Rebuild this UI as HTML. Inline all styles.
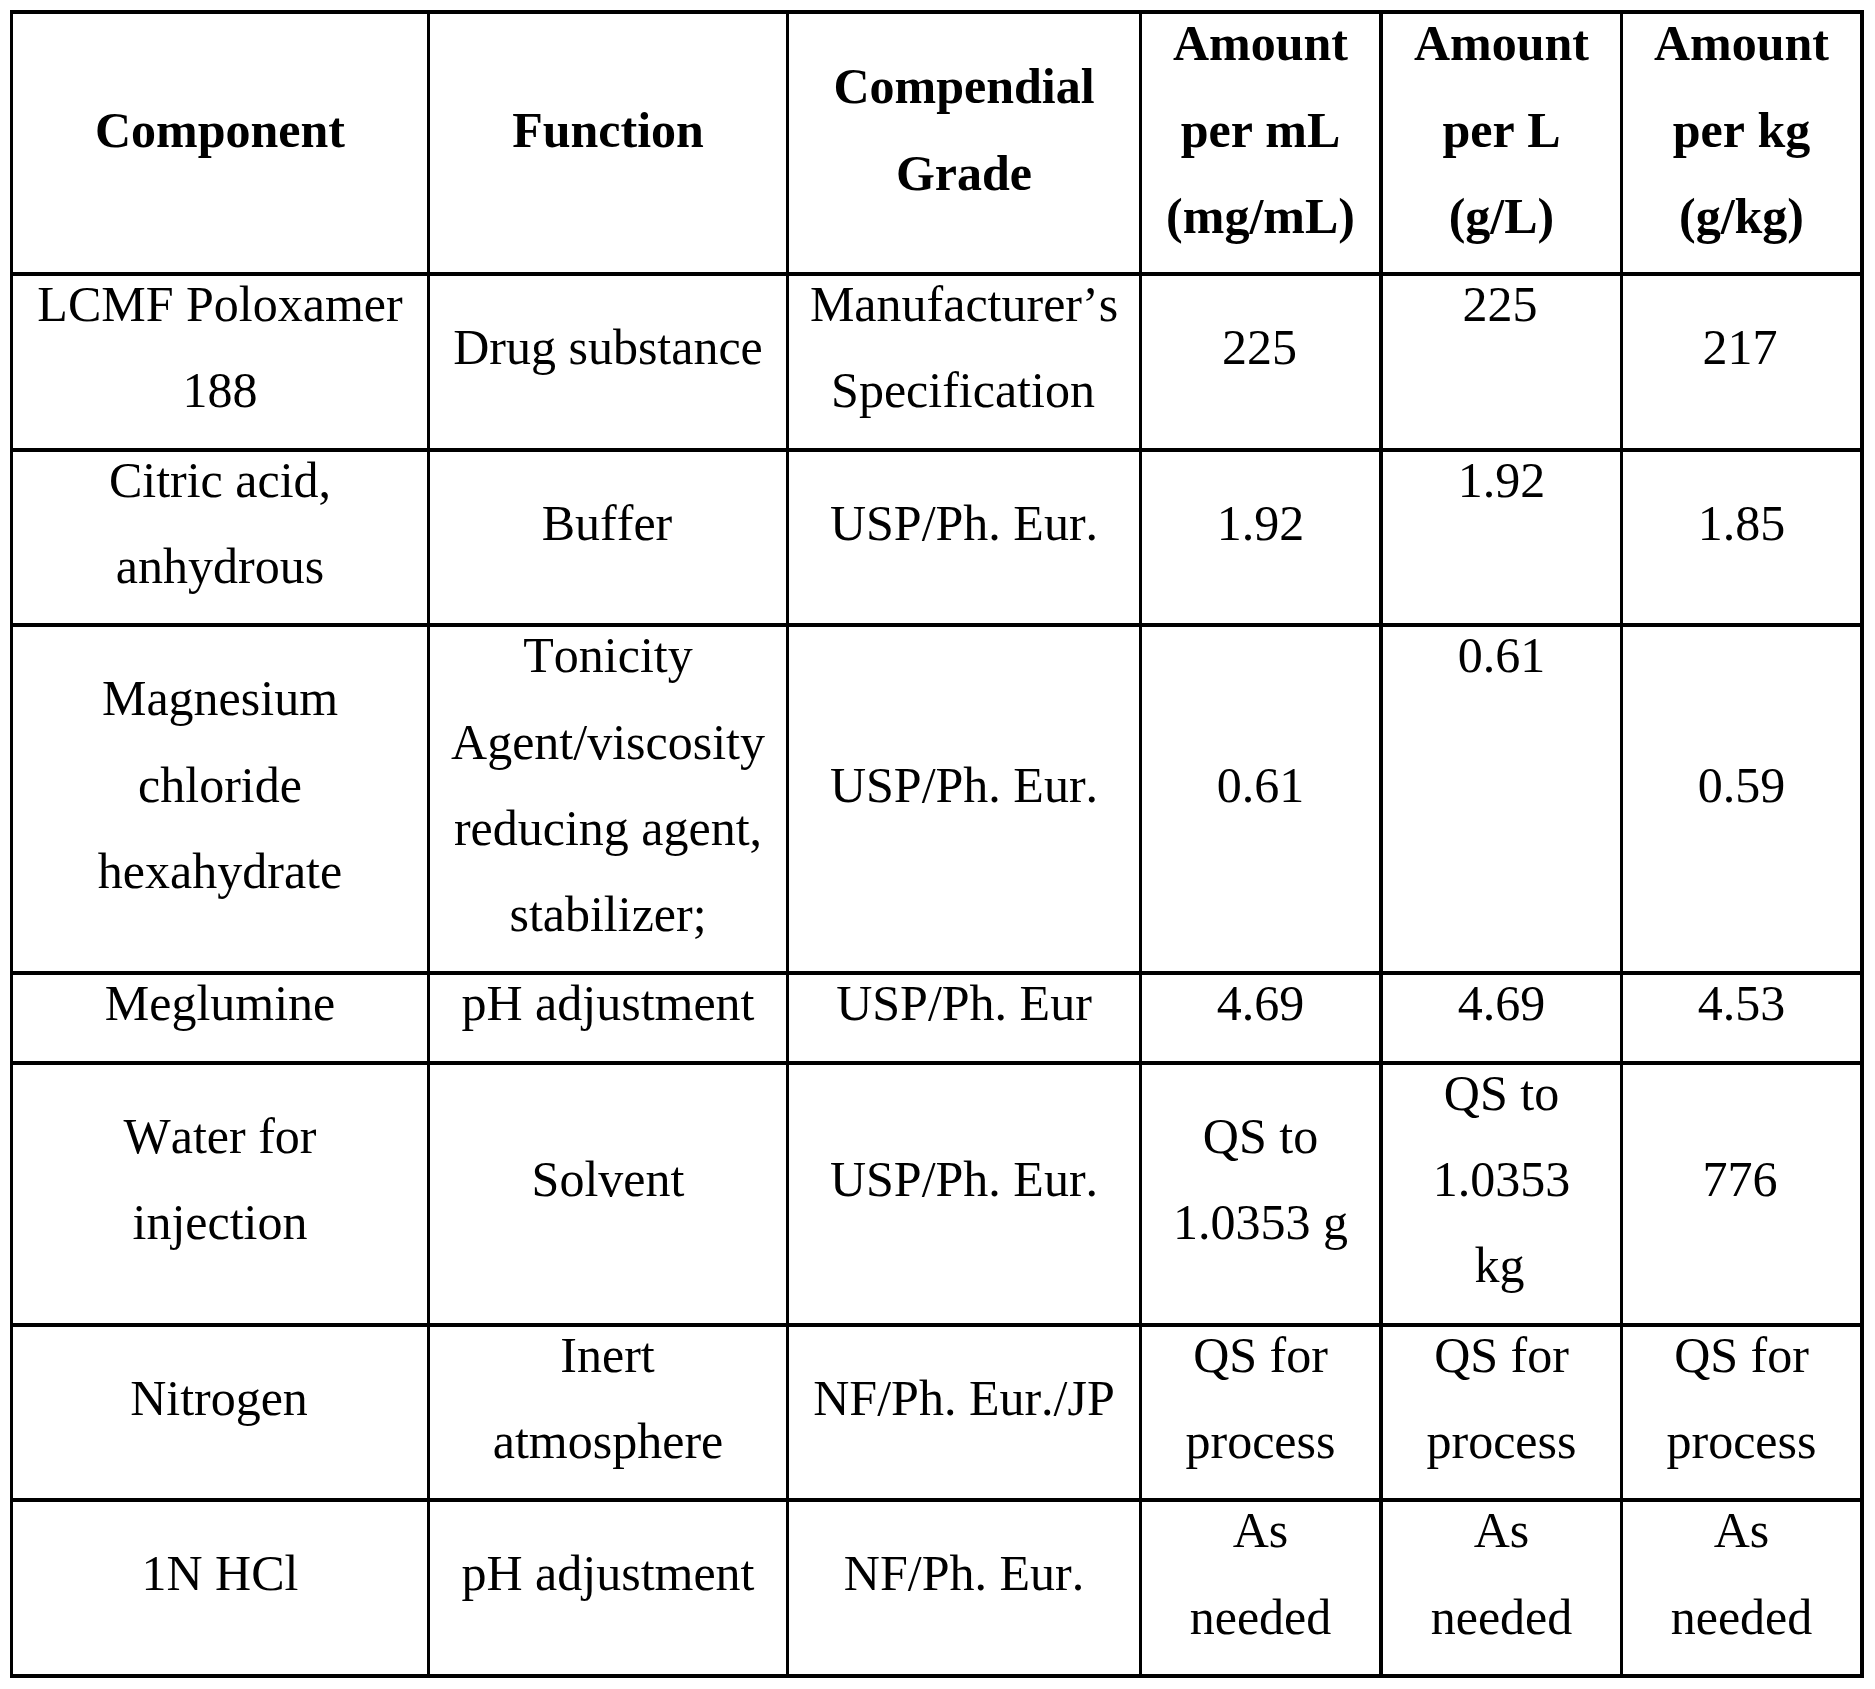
<!DOCTYPE html>
<html lang="en"><head><meta charset="utf-8"><title>Formulation table</title>
<style>
html,body{margin:0;padding:0;background:#fff;}
body{width:1875px;height:1689px;position:relative;overflow:hidden;font-family:"Liberation Serif",serif;color:#000;}
.v,.h{position:absolute;background:#000;}
.t{position:absolute;height:60px;line-height:60px;font-size:50px;text-align:center;white-space:nowrap;margin:0;padding:0;font-kerning:none;}
.b{font-weight:bold;}
</style></head><body>
<div class="v" style="left:10px;top:10px;width:3px;height:1668px"></div>
<div class="v" style="left:427px;top:10px;width:3px;height:1668px"></div>
<div class="v" style="left:786px;top:10px;width:3px;height:1668px"></div>
<div class="v" style="left:1139px;top:10px;width:3px;height:1668px"></div>
<div class="v" style="left:1379px;top:10px;width:4px;height:1668px"></div>
<div class="v" style="left:1620px;top:10px;width:3px;height:1668px"></div>
<div class="v" style="left:1860px;top:10px;width:4px;height:1668px"></div>
<div class="h" style="left:10px;top:10px;width:1854px;height:4px"></div>
<div class="h" style="left:10px;top:272px;width:1854px;height:4px"></div>
<div class="h" style="left:10px;top:448px;width:1854px;height:4px"></div>
<div class="h" style="left:10px;top:623px;width:1854px;height:4px"></div>
<div class="h" style="left:10px;top:971px;width:1854px;height:4px"></div>
<div class="h" style="left:10px;top:1061px;width:1854px;height:4px"></div>
<div class="h" style="left:10px;top:1323px;width:1854px;height:4px"></div>
<div class="h" style="left:10px;top:1498px;width:1854px;height:4px"></div>
<div class="h" style="left:10px;top:1674px;width:1854px;height:4px"></div>
<div class="t b" style="left:13px;top:100px;width:414px">Component</div>
<div class="t b" style="left:430px;top:100px;width:356px">Function</div>
<div class="t b" style="left:789px;top:56px;width:350px">Compendial</div>
<div class="t b" style="left:789px;top:143px;width:350px">Grade</div>
<div class="t b" style="left:1142px;top:13px;width:237px">Amount</div>
<div class="t b" style="left:1142px;top:100px;width:237px">per mL</div>
<div class="t b" style="left:1142px;top:186px;width:237px">(mg/mL)</div>
<div class="t b" style="left:1383px;top:13px;width:237px">Amount</div>
<div class="t b" style="left:1383px;top:100px;width:237px">per L</div>
<div class="t b" style="left:1383px;top:186px;width:237px">(g/L)</div>
<div class="t b" style="left:1623px;top:13px;width:237px">Amount</div>
<div class="t b" style="left:1623px;top:100px;width:237px">per kg</div>
<div class="t b" style="left:1623px;top:186px;width:237px">(g/kg)</div>
<div class="t" style="left:13px;top:274px;width:414px">LCMF Poloxamer</div>
<div class="t" style="left:13px;top:360px;width:414px">188</div>
<div class="t" style="left:430px;top:317px;width:356px">Drug substance</div>
<div class="t" style="left:789px;top:274px;width:350px">Manufacturer’s</div>
<div class="t" style="left:788px;top:360px;width:350px">Specification</div>
<div class="t" style="left:1141px;top:317px;width:237px">225</div>
<div class="t" style="left:1381.5px;top:274px;width:237px">225</div>
<div class="t" style="left:1621.5px;top:317px;width:237px">217</div>
<div class="t" style="left:13px;top:450px;width:414px">Citric acid,</div>
<div class="t" style="left:13px;top:536px;width:414px">anhydrous</div>
<div class="t" style="left:429px;top:493px;width:356px">Buffer</div>
<div class="t" style="left:789px;top:493px;width:350px">USP/Ph. Eur.</div>
<div class="t" style="left:1142px;top:493px;width:237px">1.92</div>
<div class="t" style="left:1383px;top:450px;width:237px">1.92</div>
<div class="t" style="left:1623px;top:493px;width:237px">1.85</div>
<div class="t" style="left:13px;top:668px;width:414px">Magnesium</div>
<div class="t" style="left:13px;top:755px;width:414px">chloride</div>
<div class="t" style="left:13px;top:841px;width:414px">hexahydrate</div>
<div class="t" style="left:430px;top:625px;width:356px">Tonicity</div>
<div class="t" style="left:430px;top:712px;width:356px">Agent/viscosity</div>
<div class="t" style="left:430px;top:798px;width:356px">reducing agent,</div>
<div class="t" style="left:430px;top:884px;width:356px">stabilizer;</div>
<div class="t" style="left:789px;top:755px;width:350px">USP/Ph. Eur.</div>
<div class="t" style="left:1142px;top:755px;width:237px">0.61</div>
<div class="t" style="left:1383px;top:625px;width:237px">0.61</div>
<div class="t" style="left:1623px;top:755px;width:237px">0.59</div>
<div class="t" style="left:13px;top:973px;width:414px">Meglumine</div>
<div class="t" style="left:430px;top:973px;width:356px">pH adjustment</div>
<div class="t" style="left:789px;top:973px;width:350px">USP/Ph. Eur</div>
<div class="t" style="left:1142px;top:973px;width:237px">4.69</div>
<div class="t" style="left:1383px;top:973px;width:237px">4.69</div>
<div class="t" style="left:1623px;top:973px;width:237px">4.53</div>
<div class="t" style="left:13px;top:1106px;width:414px">Water for</div>
<div class="t" style="left:13px;top:1192px;width:414px">injection</div>
<div class="t" style="left:430px;top:1149px;width:356px">Solvent</div>
<div class="t" style="left:789px;top:1149px;width:350px">USP/Ph. Eur.</div>
<div class="t" style="left:1142px;top:1106px;width:237px">QS to</div>
<div class="t" style="left:1142px;top:1192px;width:237px">1.0353 g</div>
<div class="t" style="left:1383px;top:1063px;width:237px">QS to</div>
<div class="t" style="left:1383px;top:1149px;width:237px">1.0353</div>
<div class="t" style="left:1381px;top:1235px;width:237px">kg</div>
<div class="t" style="left:1621.5px;top:1149px;width:237px">776</div>
<div class="t" style="left:12px;top:1368px;width:414px">Nitrogen</div>
<div class="t" style="left:429.5px;top:1325px;width:356px">Inert</div>
<div class="t" style="left:430px;top:1411px;width:356px">atmosphere</div>
<div class="t" style="left:789px;top:1368px;width:350px">NF/Ph. Eur./JP</div>
<div class="t" style="left:1142px;top:1325px;width:237px">QS for</div>
<div class="t" style="left:1142px;top:1411px;width:237px">process</div>
<div class="t" style="left:1383px;top:1325px;width:237px">QS for</div>
<div class="t" style="left:1383px;top:1411px;width:237px">process</div>
<div class="t" style="left:1623px;top:1325px;width:237px">QS for</div>
<div class="t" style="left:1623px;top:1411px;width:237px">process</div>
<div class="t" style="left:13px;top:1543px;width:414px">1N HCl</div>
<div class="t" style="left:430px;top:1543px;width:356px">pH adjustment</div>
<div class="t" style="left:789px;top:1543px;width:350px">NF/Ph. Eur.</div>
<div class="t" style="left:1142px;top:1500px;width:237px">As</div>
<div class="t" style="left:1142px;top:1587px;width:237px">needed</div>
<div class="t" style="left:1383px;top:1500px;width:237px">As</div>
<div class="t" style="left:1383px;top:1587px;width:237px">needed</div>
<div class="t" style="left:1623px;top:1500px;width:237px">As</div>
<div class="t" style="left:1623px;top:1587px;width:237px">needed</div>
</body></html>
